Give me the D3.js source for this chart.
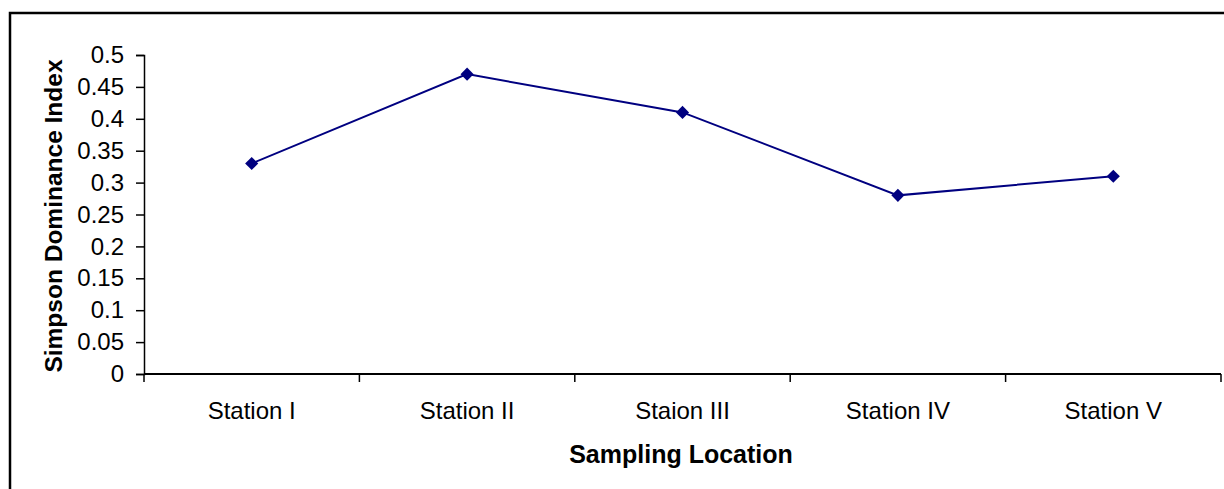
<!DOCTYPE html>
<html>
<head>
<meta charset="utf-8">
<script src="https://cdn.jsdelivr.net/npm/d3@7"></script>
<style>
  html, body { margin: 0; padding: 0; background: #fff; }
  svg { display: block; font-family: "Liberation Sans", Arial, sans-serif; }
</style>
</head>
<body>
<script>
// Simpson dominance index per sampling station
const stations = ["Station I", "Station II", "Staion III", "Station IV", "Station V"];
const dominance = [0.33, 0.47, 0.41, 0.28, 0.31];
const yTicks = [0, 0.05, 0.1, 0.15, 0.2, 0.25, 0.3, 0.35, 0.4, 0.45, 0.5];

const W = 1224, H = 489;
const plot = { left: 144, right: 1221, top: 55, bottom: 374 };
const FONT = "'Liberation Sans', Arial, sans-serif";

const svg = d3.select("body").append("svg")
  .attr("width", W).attr("height", H);

// chart frame
svg.append("rect")
  .attr("x", 10).attr("y", 13)
  .attr("width", 1240).attr("height", 520)
  .attr("fill", "#fff").attr("stroke", "#000").attr("stroke-width", 2.5);

const x = d3.scaleBand().domain(stations).range([plot.left, plot.right]);
const y = d3.scaleLinear().domain([0, 0.5]).range([plot.bottom, plot.top]);

// y axis
const yAxis = svg.append("g")
  .attr("transform", `translate(${plot.left},0)`)
  .call(d3.axisLeft(y).tickValues(yTicks).tickSize(8).tickPadding(12)
    .tickFormat(d => String(+d.toFixed(2))));
yAxis.select(".domain").attr("stroke", "#000").attr("stroke-width", 1.5);
yAxis.selectAll(".tick line").attr("stroke", "#000").attr("stroke-width", 1.5);
yAxis.selectAll("text").attr("font-size", 24).attr("fill", "#000")
  .attr("font-family", FONT);

// x axis with ticks on category boundaries
const xAxisG = svg.append("g").attr("transform", `translate(0,${plot.bottom})`);
xAxisG.append("line")
  .attr("x1", plot.left).attr("x2", plot.right)
  .attr("stroke", "#000").attr("stroke-width", 2);
const bounds = stations.map(s => x(s)).concat([x(stations[stations.length - 1]) + x.bandwidth()]);
xAxisG.selectAll("line.tk").data(bounds).join("line")
  .attr("class", "tk")
  .attr("x1", d => d).attr("x2", d => d)
  .attr("y1", 0).attr("y2", 8)
  .attr("stroke", "#000").attr("stroke-width", 1.5);
xAxisG.selectAll("text").data(stations).join("text")
  .attr("x", d => x(d) + x.bandwidth() / 2)
  .attr("y", 45)
  .attr("text-anchor", "middle")
  .attr("font-size", 24).attr("fill", "#000")
  .text(d => d);

// axis titles
svg.append("text")
  .attr("x", 681).attr("y", 463)
  .attr("text-anchor", "middle")
  .attr("font-size", 25).attr("font-weight", "bold")
  .text("Sampling Location");
svg.append("text")
  .attr("transform", `translate(62,216) rotate(-90)`)
  .attr("text-anchor", "middle")
  .attr("font-size", 24.5).attr("font-weight", "bold")
  .text("Simpson Dominance Index");

// series line and markers
const cx = d => x(d) + x.bandwidth() / 2;
const line = d3.line().x((d, i) => cx(stations[i])).y(d => y(d));
svg.append("path")
  .datum(dominance)
  .attr("d", line)
  .attr("fill", "none").attr("stroke", "#000080").attr("stroke-width", 2);

svg.selectAll("path.mk").data(dominance).join("path")
  .attr("class", "mk")
  .attr("d", d3.symbol().type(d3.symbolDiamond2).size(110))
  .attr("transform", (d, i) => `translate(${cx(stations[i])},${y(d)})`)
  .attr("fill", "#000080");
</script>
</body>
</html>
